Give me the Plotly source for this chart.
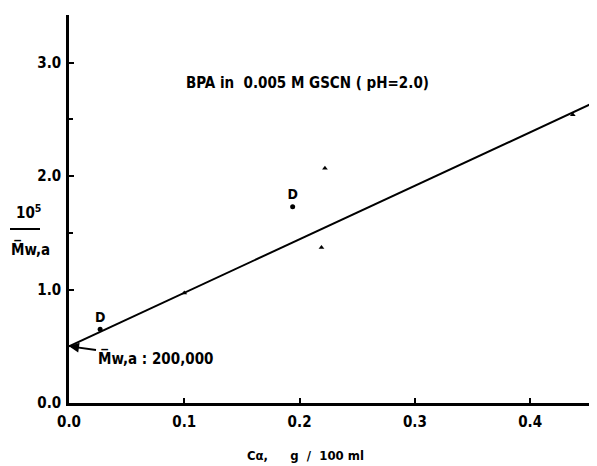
import plotly.graph_objects as go

# Data
tri_x = [0.100, 0.222, 0.219, 0.437]
tri_y = [0.97, 2.07, 1.37, 2.54]
d_x = [0.027, 0.194]
d_y = [0.65, 1.73]
fit_x = [0.0, 0.458]
fit_y = [0.50, 2.66]
x_ticks = [0.0, 0.1, 0.2, 0.3, 0.4]
x_labels = ["0.0", "0.1", "0.2", "0.3", "0.4"]
y_ticks = [0.0, 1.0, 2.0, 3.0]
y_labels = ["0.0", "1.0", "2.0", "3.0"]

FONT = "Liberation Sans Narrow, DejaVu Sans Condensed, Arial Narrow, DejaVu Sans, sans-serif"

# page has an 8px body margin; plot area in page coords: x 69..597, y 15..403
W, H = 589, 458
L, T, B = 61, 7, 63
PW, PH = W - L, H - T - B  # 528, 388


def px(xp):  # page x -> paper x
    return (xp - 69) / PW


def py(yp):  # page y -> paper y
    return (403 - yp) / PH


fig = go.Figure()
fig.add_trace(go.Scatter(x=fit_x, y=fit_y, mode="lines",
                         line=dict(color="black", width=2), showlegend=False))
fig.add_trace(go.Scatter(x=tri_x, y=tri_y, mode="markers",
                         marker=dict(symbol="triangle-up", size=5, color="black"),
                         showlegend=False))
fig.add_trace(go.Scatter(x=d_x, y=d_y, mode="markers+text",
                         text=["<b>D</b>", "<b>D</b>"], textposition="top center",
                         textfont=dict(size=14, family=FONT, color="black"),
                         marker=dict(symbol="circle", size=5, color="black"),
                         showlegend=False))

fig.update_layout(
    width=W, height=H,
    margin=dict(l=L, r=0, t=T, b=B),
    paper_bgcolor="white", plot_bgcolor="white",
    font=dict(family=FONT, color="black"),
    xaxis=dict(range=[0, 0.458], tickvals=x_ticks, ticktext=[f"<b>{t}</b>" for t in x_labels],
               showgrid=False, zeroline=False, showline=True, linecolor="black", linewidth=2.5,
               ticks="inside", ticklen=5, tickwidth=2, tickcolor="black",
               tickfont=dict(size=15, family=FONT), ticklabelstandoff=3),
    yaxis=dict(range=[0, 3.42], tickvals=y_ticks, ticktext=[f"<b>{t}</b>" for t in y_labels],
               showgrid=False, zeroline=False, showline=True, linecolor="black", linewidth=2.5,
               ticks="inside", ticklen=5, tickwidth=2, tickcolor="black",
               tickfont=dict(size=15, family=FONT), ticklabelstandoff=2,
               minor=dict(tickvals=[0.5, 1.5, 2.5], ticks="inside", ticklen=4,
                          tickwidth=1.5, tickcolor="black")),
)

# Title text inside plot
fig.add_annotation(xref="paper", yref="paper", x=px(184), y=py(83), xanchor="left",
                   yanchor="middle", text="<b>BPA in  0.005 M GSCN ( pH=2.0)</b>",
                   showarrow=False, font=dict(size=15, family=FONT))

# Intercept annotation with arrow
fig.add_annotation(x=0.0, y=0.5, xref="x", yref="y", ax=86, ay=12,
                   text="<b>M\u0305w,a : 200,000</b>", showarrow=True, arrowhead=2,
                   arrowsize=1, arrowwidth=2, arrowcolor="black",
                   font=dict(size=15, family=FONT))

# Y axis label (fraction)
fig.add_annotation(xref="paper", yref="paper", x=px(14), y=py(212), showarrow=False,
                   xanchor="left", yanchor="middle",
                   text="<b>10<sup>5</sup></b>", font=dict(size=15, family=FONT))
fig.add_shape(type="line", xref="paper", yref="paper",
              x0=px(10), x1=px(40), y0=py(229), y1=py(229),
              line=dict(color="black", width=2))
fig.add_annotation(xref="paper", yref="paper", x=px(9), y=py(249), showarrow=False,
                   xanchor="left", yanchor="middle",
                   text="<b>M\u0305w,a</b>", font=dict(size=15, family=FONT))

# X axis title
fig.add_annotation(xref="paper", yref="paper", x=px(305), y=py(465), showarrow=False,
                   xanchor="center", yanchor="bottom",
                   text="<b>C\u03b1,</b>      <b>g  /  100 ml</b>",
                   font=dict(size=13, family=FONT))

fig.write_html("out.html")
